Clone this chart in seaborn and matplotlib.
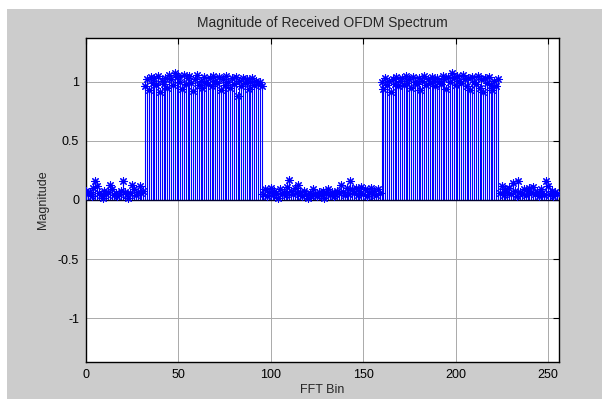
import numpy as np
import pandas as pd
import matplotlib
matplotlib.use("Agg")
import matplotlib.pyplot as plt
from matplotlib.patches import Rectangle
import seaborn as sns

# ---- data ----
low1 = [0.08, 0.05, 0.07, 0.03, 0.10, 0.16, 0.12, 0.06, 0.04, 0.02, 0.08, 0.05,
        0.07, 0.13, 0.09, 0.04, 0.06, 0.03, 0.05, 0.08, 0.16, 0.07, 0.05, 0.02,
        0.06, 0.13, 0.09, 0.04, 0.07, 0.12, 0.06, 0.08]
high1 = [0.96, 1.02, 0.93, 1.04, 0.99, 1.03, 0.97, 1.05, 0.91, 1.01, 0.98, 1.03,
         0.95, 1.06, 1.02, 0.97, 1.07, 1.04, 1.05, 1.00, 0.94, 1.06, 0.98, 1.03,
         1.05, 0.99, 0.92, 1.02, 1.06, 0.97, 1.01, 0.95, 1.04, 1.00, 0.98, 1.03,
         0.96, 1.05, 1.01, 0.99, 1.04, 0.93, 1.02, 0.97, 1.05, 1.00, 0.95, 1.03,
         0.98, 1.04, 0.88, 1.01, 0.96, 1.03, 0.99, 1.02, 0.94, 1.00, 1.03, 0.97,
         1.01, 0.98, 1.00, 0.96]
low2 = [0.05, 0.09, 0.03, 0.07, 0.10, 0.04, 0.08, 0.06, 0.02, 0.09, 0.05, 0.07,
        0.04, 0.11, 0.17, 0.08, 0.05, 0.10, 0.06, 0.13, 0.07, 0.03, 0.08, 0.05,
        0.02, 0.06, 0.04, 0.09, 0.05, 0.03, 0.07, 0.04, 0.08, 0.02, 0.06, 0.09,
        0.04, 0.07, 0.03, 0.05, 0.08, 0.06, 0.13, 0.07, 0.04, 0.10, 0.05, 0.16,
        0.09, 0.06, 0.10, 0.04, 0.08, 0.11, 0.05, 0.09, 0.03, 0.07, 0.10, 0.05,
        0.08, 0.04, 0.09, 0.06]
high2 = [1.00, 0.94, 1.03, 0.97, 1.01, 0.91, 1.02, 0.98, 1.04, 0.96, 1.01, 1.03,
         0.97, 1.05, 0.99, 1.02, 0.95, 1.04, 1.00, 0.98, 1.03, 0.93, 1.01, 1.05,
         0.97, 1.02, 0.99, 1.04, 1.01, 0.96, 1.03, 1.00, 0.98, 1.05, 1.02, 0.94,
         1.04, 1.00, 1.07, 1.03, 0.97, 1.05, 1.01, 0.99, 1.06, 1.02, 0.96, 1.03,
         0.93, 1.04, 1.00, 0.98, 1.05, 0.95, 1.02, 0.91, 1.03, 0.99, 1.04, 0.97,
         0.93, 1.01, 0.96, 1.02]
low3 = [0.06, 0.12, 0.04, 0.09, 0.07, 0.10, 0.05, 0.14, 0.08, 0.03, 0.16, 0.07,
        0.05, 0.09, 0.04, 0.08, 0.10, 0.06, 0.11, 0.05, 0.07, 0.03, 0.09, 0.06,
        0.04, 0.16, 0.12, 0.05, 0.08, 0.03, 0.07, 0.05]

magnitude = low1 + high1 + low2 + high2 + low3
fft_bin = list(range(len(magnitude)))

title_text = "Magnitude of Received OFDM Spectrum"
xlabel_text = "FFT Bin"
ylabel_text = "Magnitude"
x_ticks = [0, 50, 100, 150, 200, 250]
y_ticks = [-1, -0.5, 0, 0.5, 1]
y_tick_labels = ["-1", "-0.5", "0", "0.5", "1"]

df = pd.DataFrame({"bin": fft_bin, "mag": magnitude})

# ---- style ----
sns.set_style("white")
plt.rcParams["font.family"] = ["Liberation Sans", "DejaVu Sans"]

fig = plt.figure(figsize=(6.11, 4.01), dpi=100, facecolor="white")
fig.patches.append(Rectangle((7 / 611, 2 / 401), 595 / 611, 390 / 401,
                             transform=fig.transFigure, facecolor="#cccccc",
                             edgecolor="none", zorder=-10))
ax = fig.add_axes([86 / 611, 1 - 362 / 401, 473 / 611, 324 / 401])
ax.set_facecolor("white")

# stems
ax.vlines(df["bin"], 0, df["mag"], colors="#0000ff", linewidth=0.8, zorder=3)
# baseline
ax.axhline(0, color="#000033", linewidth=1.0, zorder=4)
# markers (MATLAB-style asterisk)
sns.scatterplot(data=df, x="bin", y="mag", ax=ax, marker=(8, 2, 0), s=30,
                color="#0000ff", edgecolor="#0000ff", linewidth=0.8, zorder=5,
                legend=False)

ax.set_xlim(0, 256)
ax.set_ylim(-1.37, 1.37)
ax.set_xticks(x_ticks)
ax.set_yticks(y_ticks)
ax.set_yticklabels(y_tick_labels)
ax.grid(True, color="#aaaaaa", linewidth=0.7, linestyle="-")
ax.set_axisbelow(True)

for s in ax.spines.values():
    s.set_color("black")
    s.set_linewidth(1.0)

ax.tick_params(direction="in", length=4, width=0.8, top=True, right=True,
               labelsize=9, colors="black", pad=5)
ax.set_title(title_text, fontsize=10, pad=8)
ax.set_xlabel(xlabel_text, fontsize=9, labelpad=2)
ax.set_ylabel(ylabel_text, fontsize=9, labelpad=6)

fig.savefig("out.png", dpi=100, facecolor=fig.get_facecolor())
